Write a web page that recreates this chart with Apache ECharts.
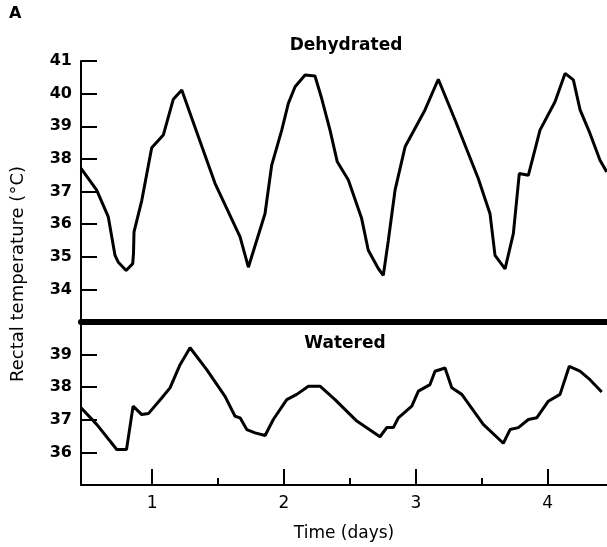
<!DOCTYPE html>
<html>
<head>
<meta charset="utf-8">
<script src="https://cdn.jsdelivr.net/npm/echarts@6/dist/echarts.min.js"></script>
<style>
html,body{margin:0;padding:0;background:#fff;}
#chart{width:607px;height:547px;}
</style>
</head>
<body>
<div id="chart"></div>
<script>
// Dehydrated panel (time in days, rectal temperature in °C)
var dehDays = [0.461,0.580,0.668,0.719,0.744,0.803,0.853,0.859,0.863,0.922,0.997,1.085,1.161,1.225,1.351,1.477,1.667,1.730,1.856,1.907,1.983,2.033,2.084,2.160,2.235,2.286,2.349,2.404,2.488,2.589,2.639,2.715,2.753,2.791,2.842,2.918,3.069,3.170,3.297,3.473,3.562,3.600,3.676,3.739,3.784,3.853,3.941,4.055,4.131,4.194,4.245,4.320,4.396,4.447];
var dehTemp = [37.71,37.04,36.22,35.04,34.83,34.58,34.79,35.10,35.76,36.73,38.34,38.73,39.83,40.11,38.68,37.25,35.61,34.68,36.32,37.81,38.88,39.70,40.21,40.57,40.54,39.85,38.88,37.91,37.35,36.17,35.20,34.64,34.43,35.50,37.04,38.37,39.50,40.44,39.19,37.40,36.32,35.04,34.63,35.71,37.55,37.50,38.88,39.75,40.62,40.42,39.50,38.78,37.96,37.60];

// Watered panel
var watDays = [0.461,0.580,0.732,0.806,0.856,0.922,0.972,1.073,1.136,1.212,1.288,1.414,1.553,1.629,1.667,1.718,1.781,1.857,1.919,2.021,2.097,2.185,2.273,2.387,2.552,2.728,2.779,2.829,2.867,2.969,3.019,3.107,3.145,3.221,3.272,3.348,3.511,3.663,3.714,3.777,3.853,3.916,4.004,4.093,4.163,4.244,4.320,4.409];
var watTemp = [37.37,36.86,36.09,36.09,37.42,37.16,37.19,37.67,37.98,38.69,39.21,38.54,37.72,37.11,37.06,36.70,36.60,36.52,37.01,37.62,37.78,38.03,38.03,37.62,36.96,36.48,36.76,36.76,37.06,37.42,37.88,38.08,38.49,38.59,37.98,37.78,36.86,36.28,36.70,36.76,37.01,37.06,37.57,37.78,38.64,38.49,38.23,37.85];

// Tick labels
var xTicks = [1, 2, 3, 4];
var xMinorTicks = [1.5, 2.5, 3.5];
var dehYTicks = [34, 35, 36, 37, 38, 39, 40, 41];
var watYTicks = [36, 37, 38, 39];

function pairs(xs, ys) { return xs.map(function (x, i) { return [x, ys[i]]; }); }

var FONT = '"DejaVu Sans", sans-serif';
var xMin = 0.461, xMax = 4.449;

var chart = echarts.init(document.getElementById('chart'), null, {renderer: 'canvas'});
var option = {
  animation: false,
  backgroundColor: '#fff',
  grid: [
    {left: 81, top: 61, height: 261, right: 0, containLabel: false, outerBoundsMode: 'none'},
    {left: 81, top: 322, height: 163, right: 0, containLabel: false, outerBoundsMode: 'none'}
  ],
  xAxis: [
    {type: 'value', gridIndex: 0, min: xMin, max: xMax,
     axisLine: {show: true, lineStyle: {color: '#000', width: 6}},
     axisTick: {show: false}, axisLabel: {show: false}, splitLine: {show: false}},
    {type: 'value', gridIndex: 1, min: xMin, max: xMax,
     axisLine: {show: true, onZero: false, lineStyle: {color: '#000', width: 2}},
     axisTick: {show: true, inside: true, length: 16, customValues: xTicks, lineStyle: {color: '#000', width: 2}},
     axisLabel: {show: true, customValues: xTicks, margin: 10, color: '#000', fontFamily: FONT, fontSize: 17},
     splitLine: {show: false},
     name: 'Time (days)', nameLocation: 'middle', nameGap: 40,
     nameTextStyle: {color: '#000', fontFamily: FONT, fontSize: 17}},
    {type: 'value', gridIndex: 1, min: xMin, max: xMax, position: 'bottom',
     axisLine: {show: false},
     axisTick: {show: true, inside: true, length: 7, customValues: xMinorTicks, lineStyle: {color: '#000', width: 2}},
     axisLabel: {show: false}, splitLine: {show: false}}
  ],
  yAxis: [
    {type: 'value', gridIndex: 0, min: 33, max: 41,
     axisLine: {show: true, lineStyle: {color: '#000', width: 2}},
     axisTick: {show: true, inside: true, length: 16, customValues: dehYTicks, lineStyle: {color: '#000', width: 2}},
     axisLabel: {show: true, customValues: dehYTicks, margin: 9, color: '#000', fontFamily: FONT, fontSize: 16, fontWeight: 'bold'},
     splitLine: {show: false}},
    {type: 'value', gridIndex: 1, min: 35, max: 40,
     axisLine: {show: true, lineStyle: {color: '#000', width: 2}},
     axisTick: {show: true, inside: true, length: 16, customValues: watYTicks, lineStyle: {color: '#000', width: 2}},
     axisLabel: {show: true, customValues: watYTicks, margin: 9, color: '#000', fontFamily: FONT, fontSize: 16, fontWeight: 'bold'},
     splitLine: {show: false}}
  ],
  series: [
    {name: 'Dehydrated', type: 'line', xAxisIndex: 0, yAxisIndex: 0, data: pairs(dehDays, dehTemp),
     symbol: 'none', smooth: false, lineStyle: {color: '#000', width: 3}, itemStyle: {color: '#000'}},
    {name: 'Watered', type: 'line', xAxisIndex: 1, yAxisIndex: 1, data: pairs(watDays, watTemp),
     symbol: 'none', smooth: false, lineStyle: {color: '#000', width: 3}, itemStyle: {color: '#000'}}
  ],
  graphic: [
    {type: 'text', left: 9, top: 6, style: {text: 'A', fill: '#000', font: 'bold 16px ' + FONT}},
    {type: 'text', x: 346, y: 46, style: {text: 'Dehydrated', fill: '#000', font: 'bold 17px ' + FONT, textAlign: 'center', textVerticalAlign: 'middle'}},
    {type: 'text', x: 345, y: 344, style: {text: 'Watered', fill: '#000', font: 'bold 17px ' + FONT, textAlign: 'center', textVerticalAlign: 'middle'}},
    {type: 'text', x: 18, y: 274, rotation: Math.PI / 2, style: {text: 'Rectal temperature (°C)', fill: '#000', font: '18px ' + FONT, textAlign: 'center', textVerticalAlign: 'middle'}}
  ]
};
chart.setOption(option);
</script>
</body>
</html>
